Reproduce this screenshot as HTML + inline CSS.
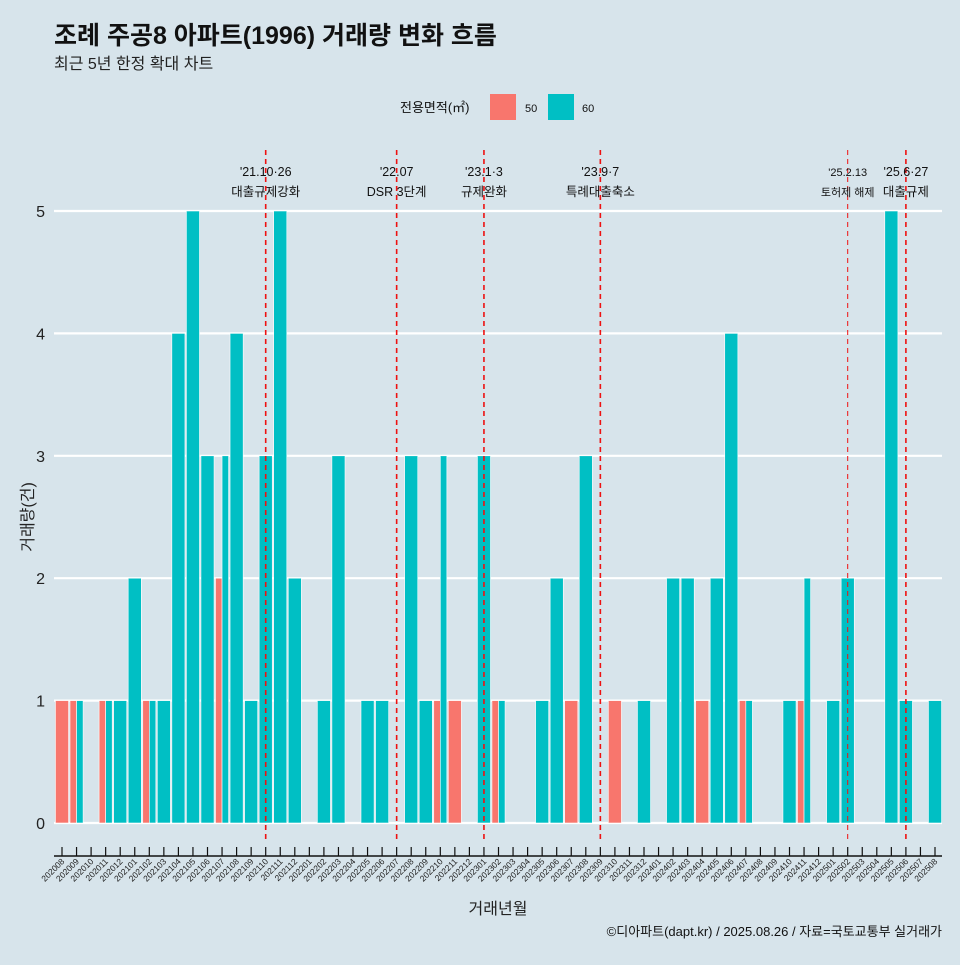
<!DOCTYPE html>
<html><head><meta charset="utf-8"><style>
body{margin:0;background:#d7e4eb;}
svg text{font-family:"Liberation Sans","Noto Sans CJK KR",sans-serif;}
</style></head><body>
<svg width="960" height="960" viewBox="0 0 960 960" xmlns="http://www.w3.org/2000/svg">
<rect width="960" height="960" fill="#d7e4eb"/>
<text x="54" y="44" font-size="25" font-weight="bold" fill="#111">조례 주공8 아파트(1996) 거래량 변화 흐름</text>
<text x="54" y="69" font-size="16" fill="#222">최근 5년 한정 확대 차트</text>
<g>
<text x="400" y="112" font-size="13" fill="#111">전용면적(㎡)</text>
<rect x="490" y="94" width="26" height="26" fill="#f8766d"/>
<text x="525" y="112" font-size="11" fill="#111">50</text>
<rect x="548" y="94" width="26" height="26" fill="#00bfc4"/>
<text x="582" y="112" font-size="11" fill="#111">60</text>
</g>
<g id="plot"></g>
<text transform="translate(33,517) rotate(-90)" text-anchor="middle" font-size="16" fill="#222">거래량(건)</text>
<text x="498" y="914" text-anchor="middle" font-size="16" fill="#222">거래년월</text>
<text x="942" y="936" text-anchor="end" font-size="13" fill="#111">©디아파트(dapt.kr) / 2025.08.26 / 자료=국토교통부 실거래가</text>
</svg>
<script>
const months=["202008","202009","202010","202011","202012","202101","202102","202103","202104","202105","202106","202107","202108","202109","202110","202111","202112","202201","202202","202203","202204","202205","202206","202207","202208","202209","202210","202211","202212","202301","202302","202303","202304","202305","202306","202307","202308","202309","202310","202311","202312","202401","202402","202403","202404","202405","202406","202407","202408","202409","202410","202411","202412","202501","202502","202503","202504","202505","202506","202507","202508"];
const series50=[1,1,0,1,0,0,1,0,0,0,0,2,0,0,0,0,0,0,0,0,0,0,0,0,0,0,1,1,0,0,1,0,0,0,0,1,0,0,1,0,0,0,0,0,1,0,0,1,0,0,0,1,0,0,0,0,0,0,0,0,0];
const series60=[0,1,0,1,1,2,1,1,4,5,3,3,4,1,3,5,2,0,1,3,0,1,1,0,3,1,3,0,0,3,1,0,0,1,2,0,3,0,0,0,1,0,2,2,0,2,4,1,0,0,1,2,0,1,2,0,0,5,1,0,1];
const yTicks=[0,1,2,3,4,5];
const eventMonths=["202110","202207","202301","202309","202502","202506"];
const eventLine1=["'21.10·26","'22.07","'23.1·3","'23.9·7","'25.2.13","'25.6·27"];
const eventLine2=["대출규제강화","DSR 3단계","규제완화","특례대출축소","토허제 해제","대출규제"];
const eventSmall=[false,false,false,false,true,false];

const NS="http://www.w3.org/2000/svg";
const g=document.getElementById('plot');
const x0=62, step=14.55, y0=823, unit=122.4;
const xs=i=>x0+i*step, ys=v=>y0-v*unit;
function mk(t,a){const e=document.createElementNS(NS,t);for(const k in a)e.setAttribute(k,a[k]);g.appendChild(e);return e;}
yTicks.forEach(v=>{
  const l=mk('line',{x1:54,x2:942,y1:ys(v),y2:ys(v),stroke:'#fff','stroke-width':2.2});
  
  
  const t=mk('text',{x:45,y:ys(v)+6,'text-anchor':'end','font-size':16,fill:'#222'});
  t.textContent=v;
  
  
});
const bw=step*0.9;
months.forEach((m,i)=>{
  const a=series50[i], b=series60[i], cx=xs(i);
  if(a>0&&b>0){
    const r1=mk('rect',{x:cx-bw/2,y:ys(a),width:bw/2,height:a*unit,fill:'#f8766d',stroke:'#fff','stroke-width':0.6});
    
    
    const r2=mk('rect',{x:cx,y:ys(b),width:bw/2,height:b*unit,fill:'#00bfc4',stroke:'#fff','stroke-width':0.6});
    
    
  }else if(a>0||b>0){
    const v=a>0?a:b;
    const r=mk('rect',{x:cx-bw/2,y:ys(v),width:bw,height:v*unit,fill:a>0?'#f8766d':'#00bfc4',stroke:'#fff','stroke-width':0.6});
    
    
  }
  const tk=mk('line',{x1:cx,x2:cx,y1:847,y2:856,stroke:'#111','stroke-width':1.2});
  
  
  const tl=mk('text',{x:cx+3,y:862,'text-anchor':'end','font-size':8.5,fill:'#222',transform:`rotate(-45 ${cx+3} 862)`});
  tl.textContent=m;
  
  
});
const ax=mk('line',{x1:54,x2:942,y1:856,y2:856,stroke:'#111','stroke-width':1.5});


eventMonths.forEach((m,k)=>{
  const cx=xs(months.indexOf(m));
  const ln=mk('line',{x1:cx,x2:cx,y1:150,y2:842,stroke:'#ee1111','stroke-width':eventSmall[k]?1:1.6,'stroke-dasharray':'5,4'});
  
  
  const fs=eventSmall[k]?11:12.5;
  const t1=mk('text',{x:cx,y:176,'text-anchor':'middle','font-size':fs,fill:'#111'});
  t1.textContent=eventLine1[k];
  
  
  const t2=mk('text',{x:cx,y:196,'text-anchor':'middle','font-size':fs,fill:'#111'});
  t2.textContent=eventLine2[k];
  
  
});
</script>
</body></html>
